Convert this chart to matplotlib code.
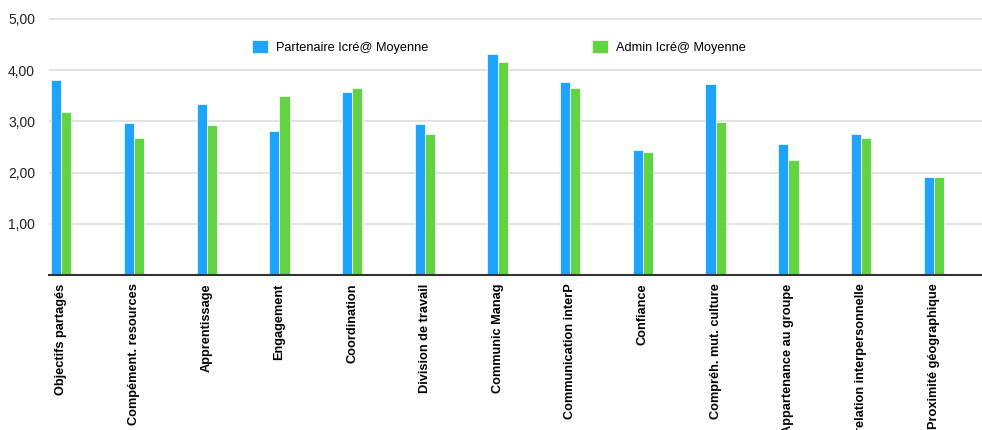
import numpy as np
import matplotlib.pyplot as plt
from matplotlib.ticker import FuncFormatter

categories = ["Objectifs partagés", "Compément. resources", "Apprentissage",
              "Engagement", "Coordination", "Division de travail",
              "Communic Manag", "Communication interP", "Confiance",
              "Compréh. mut. culture", "Appartenance au groupe",
              "relation interpersonnelle", "Proximité géographique"]
partenaire = [3.80, 2.97, 3.34, 2.81, 3.58, 2.94, 4.31, 3.76, 2.45, 3.72, 2.55, 2.75, 1.91]
admin = [3.18, 2.68, 2.92, 3.50, 3.66, 2.75, 4.16, 3.66, 2.41, 2.99, 2.25, 2.68, 1.91]

plt.rcParams['font.family'] = ['Liberation Sans', 'DejaVu Sans']

fig = plt.figure(figsize=(9.82, 4.30), dpi=100)
ax = fig.add_axes([0.0499, 0.3605, 0.9501, 0.6014])

x = np.arange(len(categories))
w = 0.14
ax.bar(x - w/2, partenaire, w, color='#1ea4fc', edgecolor='white', linewidth=0.5,
       label='Partenaire Icré@ Moyenne', zorder=3)
ax.bar(x + w/2, admin, w, color='#62d444', edgecolor='white', linewidth=0.5,
       label='Admin Icré@ Moyenne', zorder=3)

ax.set_xlim(-0.169, 12.663)
ax.set_ylim(0, 5.05)
ax.set_yticks([1, 2, 3, 4, 5])
ax.yaxis.set_major_formatter(FuncFormatter(lambda v, p: f"{v:.2f}".replace('.', ',')))
ax.grid(axis='y', color='#dddddd', linewidth=1.2, zorder=0)
ax.set_axisbelow(True)

for s in ['top', 'right', 'left']:
    ax.spines[s].set_visible(False)
ax.spines['bottom'].set_color('#333333')
ax.spines['bottom'].set_linewidth(1.5)
ax.spines['bottom'].set_zorder(4)

ax.tick_params(axis='y', length=0, pad=10, labelsize=10, labelcolor='#222222')
ax.tick_params(axis='x', length=0, pad=6)
ax.set_xticks(x)
ax.set_xticklabels(categories, rotation=90, fontsize=9.2, fontweight='bold', va='top')

fig.legend(loc='center', bbox_to_anchor=(0.508, 0.891), ncol=2, frameon=False,
           fontsize=9.2, handlelength=1.25, handleheight=1.25, handletextpad=0.6,
           columnspacing=12.8)

fig.savefig('out.png', dpi=100)
